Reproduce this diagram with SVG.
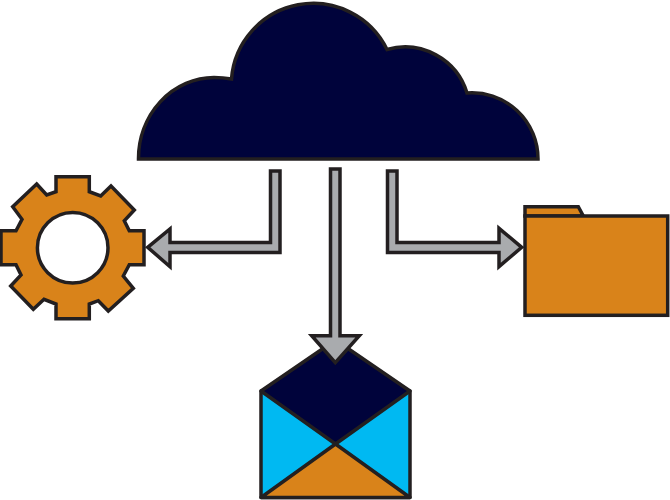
<svg xmlns="http://www.w3.org/2000/svg" width="670" height="500" viewBox="0 0 670 500">
<style>
.s{stroke:#231f20;stroke-width:3.500;stroke-linejoin:miter;stroke-miterlimit:4}
.r{stroke-linejoin:round}
.navy{fill:#00033b}.orange{fill:#d9831a}.blue{fill:#00b9f2}.gray{fill:#a9abae}
</style>
<rect width="670" height="500" fill="#fff"/>
<g id="cloud"><path class="s navy" d="M138.500 159A76 81 0 0 1 214 77.500Q223 77.500 231.500 79A82 82 0 0 1 387 49.500A65 65 0 0 1 467 93A66 66 0 0 1 538 159Z"/></g>
<g id="gear"><path class="s orange" fill-rule="evenodd" d="M56 176.700H89.300V191.700L100.700 196L111 186L134.300 210L124.300 220.700L129.300 230.700H144V264.700H129.300L123.300 276L133.300 288.300L108.300 311L98.300 300.700L89.300 304V318.700H56V304L44 299.300L33.300 309.300L10.700 286L21 275L16 264.700H1V230.700H16L22 219.300L12.700 206.700L36.700 184L46.700 195L56 191.700ZM108 247.700A35.300 35.300 0 1 0 37.400 247.700A35.300 35.300 0 1 0 108 247.700Z"/></g>
<g id="folder">
<path class="s orange" d="M525 216V206.700H578.300L583.300 216Z"/>
<rect class="s orange" x="525" y="216" width="142.700" height="99.300"/>
</g>
<g id="envelope">
<path class="s blue r" d="M261 391H410V497.500H261Z"/>
<path class="s orange r" d="M261 497.500L335.500 444L410 497.500Z"/>
<path class="s navy r" d="M261 391L335.500 340L410 391L335.500 444Z"/>
</g>
<g id="connectors">
<path class="s gray" d="M270.500 171H280V252.500H170V266.700L147.700 247.300L170 229V242.500H270.500Z"/>
<path class="s gray" d="M387.500 171H397V242.500H499V228.300L521.700 247.300L499 266.700V252.500H387.500Z"/>
<path class="s gray" d="M330.500 169H340V335.700H359.300L335.300 362.700L311.700 335.700H330.500Z"/>
</g>
</svg>
